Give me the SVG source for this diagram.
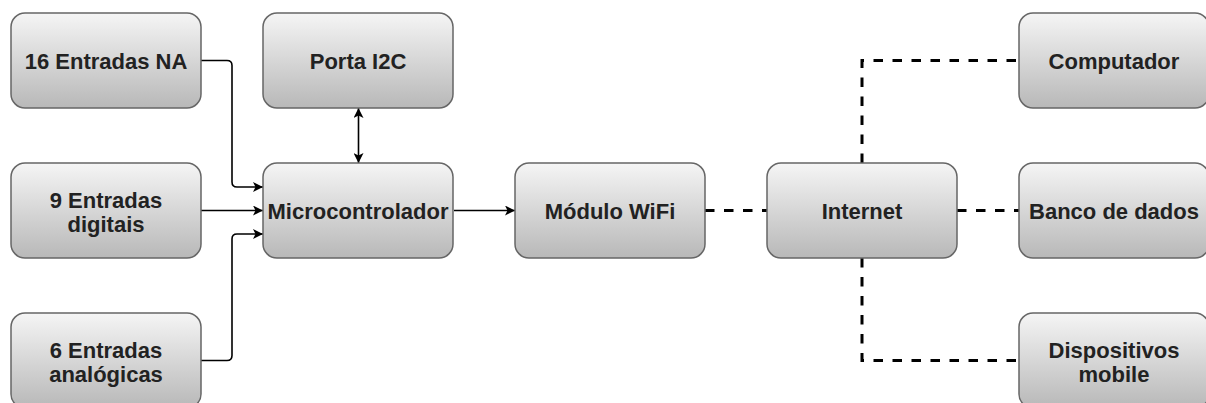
<svg xmlns="http://www.w3.org/2000/svg" width="1206" height="403" viewBox="0 0 1206 403">
  <defs>
    <linearGradient id="g" x1="0" y1="0" x2="0" y2="1">
      <stop offset="0" stop-color="#f5f5f5"/>
      <stop offset="1" stop-color="#b8b8b8"/>
    </linearGradient>
    <marker id="arr" viewBox="0 0 10 10" refX="10" refY="5" markerWidth="10" markerHeight="10" markerUnits="userSpaceOnUse" orient="auto-start-reverse">
      <path d="M0,0 L10,5 L0,10 L2.5,5 z" fill="#000"/>
    </marker>
  </defs>
  <style>
    .box { fill: url(#g); stroke: #666666; stroke-width: 1.5; }
    .lbl { font-family: "Liberation Sans", Arial, sans-serif; font-weight: bold; font-size: 22px; fill: #222222; text-anchor: middle; }
    .solid { fill: none; stroke: #000; stroke-width: 1.6; }
    .dash { fill: none; stroke: #000; stroke-width: 3; stroke-dasharray: 9.5 9.5; }
  </style>
  <rect width="1206" height="403" fill="#ffffff"/>

  <g id="connectors">
    <path class="solid" d="M201,60.5 H227 Q232,60.5 232,65.5 V182 Q232,187 237,187 H263" marker-end="url(#arr)"/>
    <path class="solid" d="M201,210.5 H263" marker-end="url(#arr)"/>
    <path class="solid" d="M201,360.5 H227 Q232,360.5 232,355.5 V239 Q232,234 237,234 H263" marker-end="url(#arr)"/>
    <path class="solid" d="M358.5,108 V163" marker-start="url(#arr)" marker-end="url(#arr)"/>
    <path class="solid" d="M454,210.5 H515" marker-end="url(#arr)"/>
    <path class="dash" d="M705,210.5 H767"/>
    <path class="dash" d="M862,163 V60.5 H1019"/>
    <path class="dash" d="M957,210.5 H1019"/>
    <path class="dash" d="M862,258 V360.5 H1019"/>
  </g>

  <g id="n-entradas-na">
    <rect class="box" x="11" y="13" width="190" height="95" rx="14"/>
    <text class="lbl" x="106" y="69">16 Entradas NA</text>
  </g>
  <g id="n-entradas-digitais">
    <rect class="box" x="11" y="163" width="190" height="95" rx="14"/>
    <text class="lbl" x="106" y="208">9 Entradas<tspan x="106" y="231.5">digitais</tspan></text>
  </g>
  <g id="n-entradas-analogicas">
    <rect class="box" x="11" y="313" width="190" height="95" rx="14"/>
    <text class="lbl" x="106" y="358">6 Entradas<tspan x="106" y="381.5">analógicas</tspan></text>
  </g>
  <g id="n-porta-i2c">
    <rect class="box" x="263" y="13" width="190" height="95" rx="14"/>
    <text class="lbl" x="358" y="69">Porta I2C</text>
  </g>
  <g id="n-microcontrolador">
    <rect class="box" x="263" y="163" width="190" height="95" rx="14"/>
    <text class="lbl" x="358" y="219">Microcontrolador</text>
  </g>
  <g id="n-modulo-wifi">
    <rect class="box" x="515" y="163" width="190" height="95" rx="14"/>
    <text class="lbl" x="610" y="219">Módulo WiFi</text>
  </g>
  <g id="n-internet">
    <rect class="box" x="767" y="163" width="190" height="95" rx="14"/>
    <text class="lbl" x="862" y="219">Internet</text>
  </g>
  <g id="n-computador">
    <rect class="box" x="1019" y="13" width="190" height="95" rx="14"/>
    <text class="lbl" x="1114" y="69">Computador</text>
  </g>
  <g id="n-banco-dados">
    <rect class="box" x="1019" y="163" width="190" height="95" rx="14"/>
    <text class="lbl" x="1114" y="219">Banco de dados</text>
  </g>
  <g id="n-dispositivos">
    <rect class="box" x="1019" y="313" width="190" height="95" rx="14"/>
    <text class="lbl" x="1114" y="358">Dispositivos<tspan x="1114" y="381.5">mobile</tspan></text>
  </g>
</svg>
